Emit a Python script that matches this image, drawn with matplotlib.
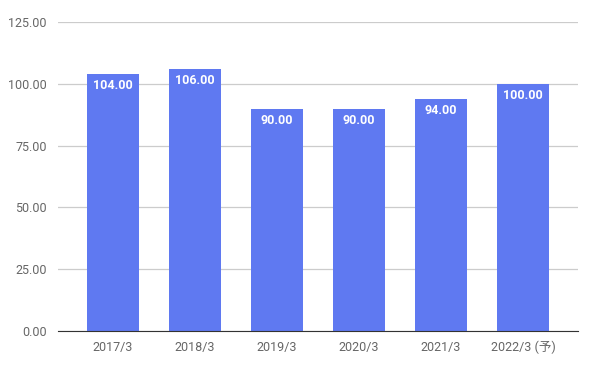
import matplotlib
matplotlib.use("Agg")
import matplotlib.pyplot as plt

# data
categories = ["2017/3", "2018/3", "2019/3", "2020/3", "2021/3", "2022/3 (予)"]
values = [104.00, 106.00, 90.00, 90.00, 94.00, 100.00]
yticks = [0, 25, 50, 75, 100, 125]

plt.rcParams['font.family'] = ['Roboto', 'Noto Sans CJK JP', 'DejaVu Sans']

fig = plt.figure(figsize=(5.93, 3.66), dpi=100)
ax = fig.add_axes([0.0978, 0.0956, 0.877, 0.844])

x = range(len(categories))
bars = ax.bar(x, values, width=0.63, color="#5f79f1", zorder=3)

for b, v in zip(bars, values):
    ax.text(b.get_x() + b.get_width() / 2, v - 2.2, f"{v:.2f}",
            ha="center", va="top", color="white", fontsize=9, fontweight="bold", zorder=4)

ax.set_xlim(-0.67, len(categories) - 0.33)
ax.set_ylim(0, 125)
ax.set_yticks(yticks)
ax.set_yticklabels([f"{t:.2f}" for t in yticks])
ax.set_xticks(list(x))
ax.set_xticklabels(categories)

ax.yaxis.grid(True, color="#cccccc", linewidth=0.9, zorder=0)
for s in ["top", "right", "left"]:
    ax.spines[s].set_visible(False)
ax.spines["bottom"].set_color("#333333")
ax.spines["bottom"].set_zorder(5)
ax.tick_params(axis="both", length=0, labelsize=9, colors="#666666")
ax.tick_params(axis="x", pad=7)
ax.tick_params(axis="y", pad=8)

plt.savefig("out.png", dpi=100)
